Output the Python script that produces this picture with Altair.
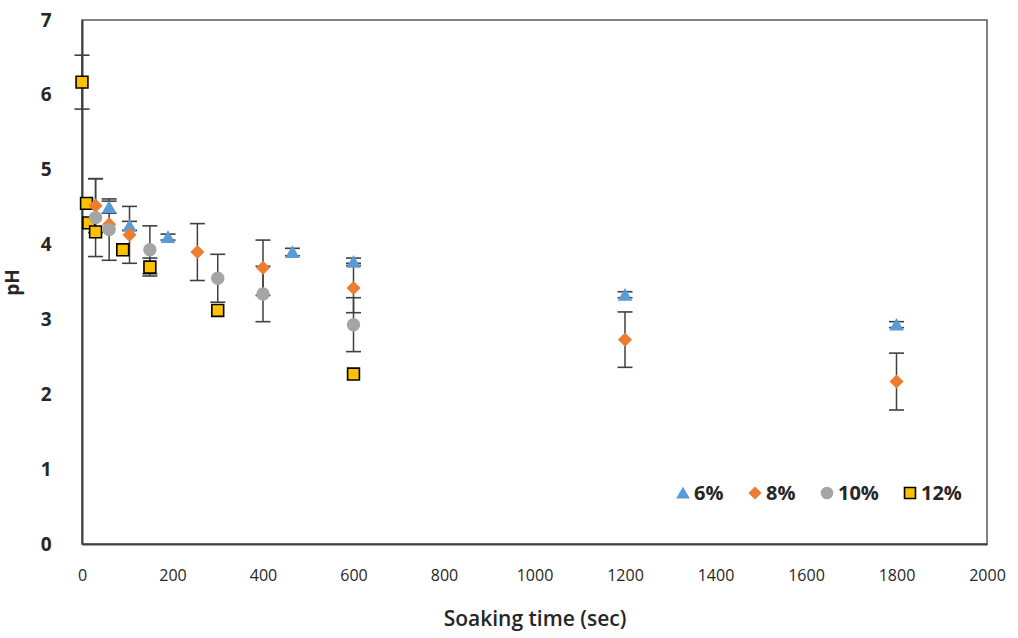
import altair as alt
import pandas as pd

# Series labels (acid concentration)
series = ["6%", "8%", "10%", "12%"]

# Soaking time (s), mean pH and standard deviation for each concentration
t6 = [60, 105, 190, 465, 600, 1200, 1800]
ph6 = [4.50, 4.25, 4.10, 3.90, 3.77, 3.33, 2.93]
sd6 = [0.08, 0.06, 0.04, 0.05, 0.05, 0.04, 0.04]

t8 = [30, 60, 105, 255, 400, 600, 1200, 1800]
ph8 = [4.52, 4.27, 4.13, 3.90, 3.69, 3.42, 2.73, 2.17]
sd8 = [0.36, 0.0, 0.38, 0.38, 0.37, 0.33, 0.37, 0.38]

t10 = [30, 60, 150, 300, 400, 600]
ph10 = [4.36, 4.20, 3.93, 3.55, 3.34, 2.93]
sd10 = [0.52, 0.41, 0.32, 0.32, 0.37, 0.36]

t12 = [0, 10, 15, 30, 90, 150, 300, 600]
ph12 = [6.17, 4.55, 4.29, 4.17, 3.93, 3.70, 3.12, 2.27]
sd12 = [0.36, 0.0, 0.0, 0.0, 0.0, 0.12, 0.0, 0.0]

fills = ["#5B9BD5", "#ED7D31", "#A5A5A5", "#FFC000"]
outlines = ["#5B9BD5", "#ED7D31", "#A5A5A5", "#000000"]
shapes = ["triangle-up", "diamond", "circle", "square"]
sizes = [140, 140, 240, 200]

rows = []
for name, ts, ps, sds in [("6%", t6, ph6, sd6), ("8%", t8, ph8, sd8),
                          ("10%", t10, ph10, sd10), ("12%", t12, ph12, sd12)]:
    for t, p, s in zip(ts, ps, sds):
        rows.append({"series": name, "marker": name, "time": t, "ph": p, "sd": s,
                     "lo": p - s, "hi": p + s})
df = pd.DataFrame(rows)
bars = df[df["sd"] > 0]

fill_scale = alt.Scale(domain=series, range=fills)
stroke_scale = alt.Scale(domain=series, range=outlines)
shape_scale = alt.Scale(domain=series, range=shapes)

x_enc = alt.X("time:Q", scale=alt.Scale(domain=[0, 2000], nice=False),
              axis=alt.Axis(values=list(range(0, 2001, 200)), format="d",
                            title="Soaking time (sec)",
                            ticks=False, grid=False, labelFont="Open Sans",
                            labelFontSize=16, labelPadding=23, labelColor="#262626",
                            titleFont="Open Sans", titleFontSize=21,
                            titleFontWeight=600, titleColor="#262626",
                            titlePadding=25, domainColor="#404040", domainWidth=2,
                            labelFlush=False))
y_enc = alt.Y("ph:Q", scale=alt.Scale(domain=[0, 7], nice=False),
              axis=alt.Axis(values=list(range(0, 8)), format="d", title="pH",
                            ticks=False, grid=False,
                            labelFont="Open Sans", labelFontSize=19, labelFontWeight="bold",
                            labelPadding=31, labelColor="#262626",
                            titleFont="Open Sans", titleFontSize=19, titleFontWeight="bold",
                            titleColor="#262626", titlePadding=18,
                            domainColor="#404040", domainWidth=2))

# Error bars: vertical whisker plus end caps
err_rule = alt.Chart(bars).mark_rule(color="#404040", strokeWidth=1.5).encode(
    x="time:Q", y="lo:Q", y2="hi:Q")
cap_lo = alt.Chart(bars).mark_tick(orient="horizontal", size=15, thickness=1.6,
                                   color="#404040", opacity=1).encode(x="time:Q", y="lo:Q")
cap_hi = alt.Chart(bars).mark_tick(orient="horizontal", size=15, thickness=1.6,
                                   color="#404040", opacity=1).encode(x="time:Q", y="hi:Q")

points = alt.Chart(df).mark_point(filled=True, opacity=1, strokeWidth=1.6, clip=False).encode(
    x=x_enc,
    y=y_enc,
    fill=alt.Fill("series:N", scale=fill_scale, legend=None),
    stroke=alt.Stroke("series:N", scale=stroke_scale, legend=None),
    shape=alt.Shape("series:N", scale=shape_scale, legend=None),
    size=alt.Size("marker:N", scale=alt.Scale(domain=series, range=sizes), legend=None),
    order=alt.Order("time:Q"),
)

# Legend row inside the lower-right corner of the plot
key_layers = []
key_x = 601
key_y = 473
for name in series:
    item = pd.DataFrame({"series": [name]})
    key_layers.append(
        alt.Chart(item).mark_point(filled=True, opacity=1, strokeWidth=1.6, size=120).encode(
            x=alt.value(key_x), y=alt.value(key_y),
            fill=alt.Fill("series:N", scale=fill_scale, legend=None),
            stroke=alt.Stroke("series:N", scale=stroke_scale, legend=None),
            shape=alt.Shape("series:N", scale=shape_scale, legend=None),
        ))
    key_layers.append(
        alt.Chart(item).mark_text(align="left", baseline="middle", font="Open Sans",
                                  fontSize=20, fontWeight="bold", color="#262626").encode(
            x=alt.value(key_x + 11), y=alt.value(key_y + 1), text="series:N"))
    key_x += 50 + 11 * len(name)

chart = alt.layer(err_rule, cap_lo, cap_hi, points, *key_layers).properties(
    width=905, height=524,
    autosize=alt.AutoSizeParams(type="none"),
    padding={"left": 82, "top": 20, "right": 31, "bottom": 94},
    background="white",
).configure_view(stroke="#595959", strokeWidth=1.5)

chart.save("out.html", embed_options={"renderer": "svg", "actions": False})
